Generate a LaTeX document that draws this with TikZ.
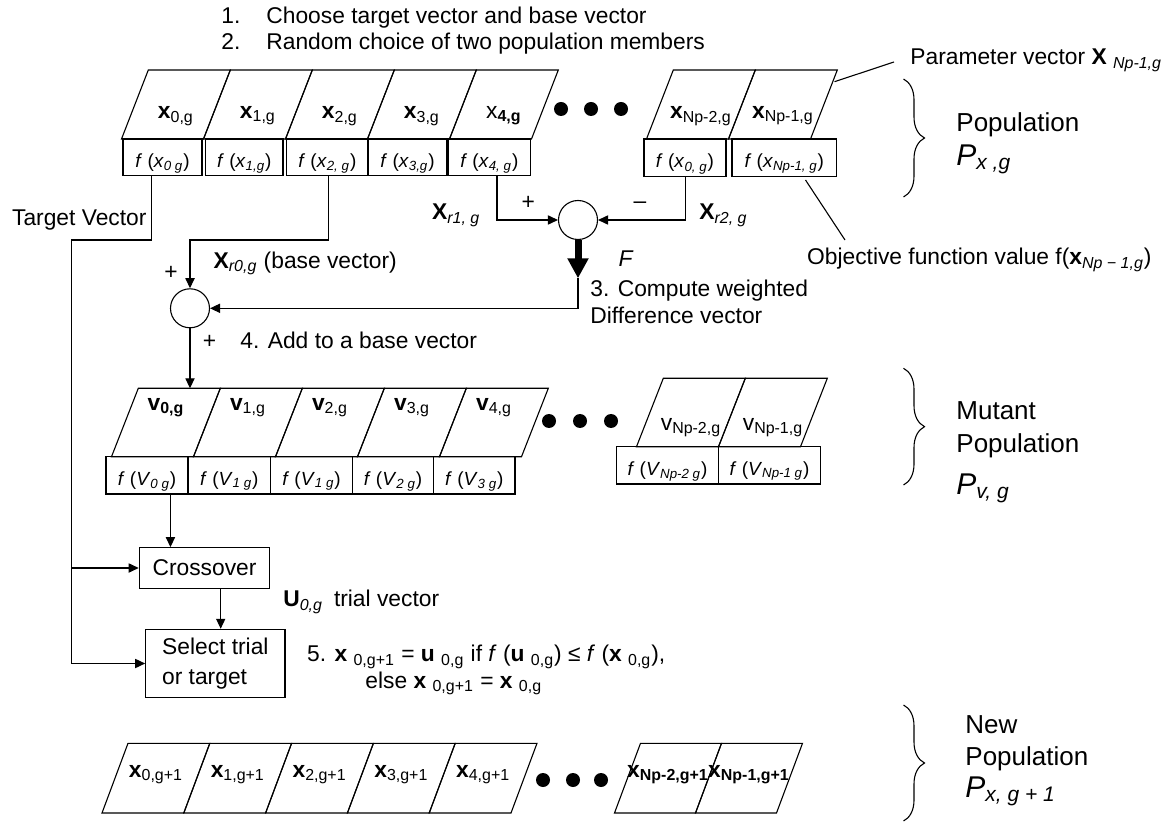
\documentclass[tikz,border=0pt]{standalone}
\usepackage{fontspec}
\setmainfont{Liberation Sans}
\usetikzlibrary{arrows.meta,decorations.pathreplacing,fit}

% subscripts: upright and italic
\newcommand\lsub[1]{\textsubscript{#1}}
\newcommand\isub[1]{\textsubscript{\itshape #1}}
\newcommand\bodyfont{\fontsize{11.4}{13.7}\selectfont}
\newcommand\cellfont{\fontsize{9.5}{11.4}\selectfont}
\newcommand\groupfont{\fontsize{13}{15.6}\selectfont}
\newcommand\bigPfont{\fontsize{15}{18}\selectfont}

% one slanted vector cell: bottom-left x, top y, bottom y, slant, width
\newcommand\pcell[5]{\draw[wire] (#1,#3) -- ({#1+#5},#3) -- ({#1+#5+#4},#2) -- ({#1+#4},#2) -- cycle;}

\tikzset{
  wire/.style={line width=0.55pt},
  arr/.style={wire,-{Triangle[length=5pt,width=4.6pt]}},
  heavy/.style={line width=3.5pt,-{Triangle[length=10pt,width=10pt]}},
  fitbox/.style={draw,wire,inner sep=0pt},
  lbl/.style={inner sep=0pt,font=\bodyfont,anchor=base west},
  celllbl/.style={inner sep=0pt,font=\bodyfont,anchor=base},
  boxlbl/.style={inner sep=0pt,font=\cellfont,anchor=base},
  grouplbl/.style={inner sep=0pt,font=\groupfont,anchor=base west},
  biglbl/.style={inner sep=0pt,font=\bigPfont,anchor=base west},
  dotmark/.style={circle,fill=black,inner sep=0pt,minimum size=7pt},
  sumnode/.style={draw,wire,circle,inner sep=0pt,minimum size=19.5pt},
  procbox/.style={draw,wire,inner sep=0pt,font=\bodyfont},
  groupbrace/.style={wire,decorate,decoration={brace,amplitude=10.5pt}},
}

\begin{document}
\begin{tikzpicture}[x=0.5pt,y=-0.5pt]
\fill[white] (0,0) rectangle (1172,823);
\useasboundingbox (0,0) rectangle (1172,823);

% ---------- steps 1 and 2 ----------
\node[lbl] (s1n) at (221,24) {1.};
\node[lbl] (s1t) at (266,24) {Choose target vector and base vector};
\node[lbl] (s2n) at (221,50) {2.};
\node[lbl] (s2t) at (266,50) {Random choice of two population members};

% ---------- current population ----------
\foreach \b in {121.5,203.5,285.5,367.5,449.5} {\pcell{\b}{70}{139}{26.8}{82}}
\foreach \b in {646.5,728.5} {\pcell{\b}{70}{139}{26.8}{82}}
\node[celllbl] (xc0) at (175.9,118.5) {\textbf{x}\lsub{0,g}};
\node[celllbl] (xc1) at (257.9,118.5) {\textbf{x}\lsub{1,g}};
\node[celllbl] (xc2) at (339.9,118.5) {\textbf{x}\lsub{2,g}};
\node[celllbl] (xc3) at (421.9,118.5) {\textbf{x}\lsub{3,g}};
\node[celllbl] (xc4) at (503.9,118.5) {x\lsub{\bfseries 4,g}};
\node[celllbl] (xca) at (700.9,118.5) {\textbf{x}\lsub{Np-2,g}};
\node[celllbl] (xcb) at (782.9,118.5) {\textbf{x}\lsub{Np-1,g}};
\node[dotmark] (d1) at (561,109) {};
\node[dotmark] (d2) at (591,109) {};
\node[dotmark] (d3) at (621,109) {};

\node[fitbox,fit={(123,139) (202,175.7)}] (fx0) {};
\node[fitbox,fit={(205.5,139) (283,175.7)}] (fx1) {};
\node[fitbox,fit={(286.5,139) (368,175.7)}] (fx2) {};
\node[fitbox,fit={(368,139) (447,175.7)}] (fx3) {};
\node[fitbox,fit={(448,139) (530.5,175.7)}] (fx4) {};
\node[fitbox,fit={(644,139) (726,176.5)}] (fxa) {};
\node[fitbox,fit={(732,139) (836.5,176.5)}] (fxb) {};
\node[boxlbl] at (162.5,167.5) {\textit{f} (\textit{x}\isub{0 g})};
\node[boxlbl] at (244.3,167.5) {\textit{f} (\textit{x}\isub{1,g})};
\node[boxlbl] at (327.3,167.5) {\textit{f} (\textit{x}\isub{2, g})};
\node[boxlbl] at (407.5,167.5) {\textit{f} (\textit{x}\isub{3,g})};
\node[boxlbl] at (489.3,167.5) {\textit{f} (\textit{x}\isub{4, g})};
\node[boxlbl] at (685,168) {\textit{f} (\textit{x}\isub{0, g})};
\node[boxlbl] at (784.3,168) {\textit{f} (\textit{x}\isub{Np-1, g})};

\node[lbl] (pvlabel) at (910,65) {Parameter vector \textbf{X} \isub{Np-1,g}};
\coordinate (pvend) at (834.5,81.7);
\draw[wire] (894,62) -- (pvend);

\draw[groupbrace] (903.5,79) -- (903.5,197);
\node[grouplbl] (popa) at (956,131.7) {Population};
\node[biglbl] (popb) at (956,165.5) {\textit{P}\isub{x ,g}};

% ---------- objective value note ----------
\coordinate (objstart) at (805.5,180);
\coordinate (objend) at (845,240);
\draw[wire] (objstart) -- (objend);
\node[lbl] (objlbl) at (806.7,265) {Objective function value f(\textbf{x}\isub{Np − 1,g})};

% ---------- difference and sum ----------
\node[sumnode] (diff) at (578,220) {};
\node[sumnode] (sum) at (190,308.3) {};

\node[lbl] (tv) at (11.7,226) {Target Vector};
\node[lbl] (r1) at (431.7,220) {\textbf{X}\isub{r1, g}};
\node[lbl] (r2) at (699,220) {\textbf{X}\isub{r2, g}};
\node[celllbl] (plus1) at (528.3,210) {+};
\node[celllbl] (minus1) at (640,209) {–};
\node[lbl] (r0) at (213.3,268.3) {\textbf{X}\isub{r0,g} (base vector)};
\node[celllbl] (plus2) at (171,280) {+};
\node[celllbl] (plus3) at (209.6,348.3) {+};
\node[lbl] (fw) at (618.3,266.7) {\textit{F}};
\node[lbl] (s3a) at (590,296.7) {3. Compute weighted};
\node[lbl] (s3b) at (590,323.3) {Difference vector};
\node[lbl] (s4) at (240,348.3) {4. Add to a base vector};

% ---------- mutant population ----------
\foreach \b in {111.5,193.5,275.5,357.5,439.5} {\pcell{\b}{388.3}{456.7}{26.8}{82}}
\foreach \b in {636.5,718.5} {\pcell{\b}{378.3}{446.7}{26.8}{82}}
\node[celllbl] (vc0) at (166,410) {\textbf{v}\lsub{\bfseries 0,g}};
\node[celllbl] (vc1) at (248,410) {\textbf{v}\lsub{1,g}};
\node[celllbl] (vc2) at (330,410) {\textbf{v}\lsub{2,g}};
\node[celllbl] (vc3) at (412,410) {\textbf{v}\lsub{3,g}};
\node[celllbl] (vc4) at (494,410) {\textbf{v}\lsub{4,g}};
\node[celllbl] (vca) at (691,430) {v\lsub{Np-2,g}};
\node[celllbl] (vcb) at (773,430) {v\lsub{Np-1,g}};
\node[dotmark] (e1) at (549,421) {};
\node[dotmark] (e2) at (580,421) {};
\node[dotmark] (e3) at (611,421) {};

\node[fitbox,fit={(106,456.7) (188,494)}] (fm0) {};
\node[fitbox,fit={(188,456.7) (270.5,494)}] (fm1) {};
\node[fitbox,fit={(270.5,456.7) (352.5,494)}] (fm2) {};
\node[fitbox,fit={(352.5,456.7) (433.5,494)}] (fm3) {};
\node[fitbox,fit={(433.5,456.7) (515,494)}] (fm4) {};
\node[fitbox,fit={(616.5,446.7) (718.5,484)}] (fma) {};
\node[fitbox,fit={(718.5,446.7) (820.5,484)}] (fmb) {};
\node[boxlbl] at (147,485) {\textit{f} (\textit{V}\isub{0 g})};
\node[boxlbl] at (229.3,485) {\textit{f} (\textit{V}\isub{1 g})};
\node[boxlbl] at (311.5,485) {\textit{f} (\textit{V}\isub{1 g})};
\node[boxlbl] at (393,485) {\textit{f} (\textit{V}\isub{2 g})};
\node[boxlbl] at (474.3,485) {\textit{f} (\textit{V}\isub{3 g})};
\node[boxlbl] at (667.5,475) {\textit{f} (\textit{V}\isub{Np-2 g})};
\node[boxlbl] at (769.5,475) {\textit{f} (\textit{V}\isub{Np-1 g})};

\draw[groupbrace] (903.5,368.3) -- (903.5,485);
\node[grouplbl] (mpa) at (956,420) {Mutant};
\node[grouplbl] (mpb) at (956,452) {Population};
\node[biglbl] (mpc) at (956,494) {\textit{P}\isub{v, g}};

% ---------- crossover and selection ----------
\node[procbox,minimum width=65.25pt,minimum height=20.3pt] (cross) at (204.5,568) {Crossover};
\node[procbox,minimum width=69.65pt,minimum height=34.2pt,align=left,
      font=\fontsize{11.4}{14.7}\selectfont] (sel) at (215.35,663.5) {Select trial\\or target};
\node[lbl] (u0) at (283,606.7) {\textbf{U}\isub{0,g}};
\node[lbl] (u0t) at (333.6,606.7) {trial vector};
\node[lbl] (s5a) at (306.7,661.7) {5. \textbf{x} \lsub{0,g+1} = \textbf{u} \lsub{0,g} if \textit{f} (\textbf{u} \lsub{0,g}) ≤ \textit{f} (\textbf{x} \lsub{0,g}),};
\node[lbl] (s5b) at (365,688.3) {else \textbf{x} \lsub{0,g+1} = \textbf{x} \lsub{0,g}};

% ---------- new population ----------
\foreach \b in {102,183.8,265.6,347.4,429.2} {\pcell{\b}{743.3}{813}{26}{81.8}}
\foreach \b in {614.5,695.5} {\pcell{\b}{743.3}{813}{26}{81}}
\node[celllbl] (nc0) at (156,777.3) {\textbf{x}\lsub{0,g+1}};
\node[celllbl] (nc1) at (237.8,777.3) {\textbf{x}\lsub{1,g+1}};
\node[celllbl] (nc2) at (319.6,777.3) {\textbf{x}\lsub{2,g+1}};
\node[celllbl] (nc3) at (401.4,777.3) {\textbf{x}\lsub{3,g+1}};
\node[celllbl] (nc4) at (483.2,777.3) {\textbf{x}\lsub{4,g+1}};
\node[celllbl] (nca) at (668,777.3) {\textbf{x}\lsub{\bfseries Np-2,g+1}};
\node[celllbl] (ncb) at (749,777.3) {\textbf{x}\lsub{\bfseries Np-1,g+1}};
\node[dotmark] (g1) at (543,780) {};
\node[dotmark] (g2) at (573,780) {};
\node[dotmark] (g3) at (601,780) {};

\draw[groupbrace] (903.5,705) -- (903.5,821);
\node[grouplbl] (npa) at (965,733.3) {New};
\node[grouplbl] (npb) at (965,765) {Population};
\node[biglbl] (npc) at (965,797) {\textit{P}\isub{x, g + 1}};

% ---------- connectors ----------
\coordinate (trunk) at (71.5,240);
\draw[arr] ([xshift=14.5pt]fx0.south west) |- (trunk) |- (sel.west);
\draw[arr] (trunk |- cross.west) -- (cross.west);

\coordinate (basejoin) at (190,240);
\draw[arr] ([xshift=21.25pt]fx2.south west) |- (basejoin) -- (sum.north);
\draw[arr] ([xshift=24.75pt]fx4.south west) |- (diff.west);
\draw[arr] ([xshift=21pt]fxa.south west) |- (diff.east);

\coordinate (ftip) at (578,278.3);
\draw[heavy] (diff.south) -- (ftip);
\draw[arr] (ftip) |- (sum.east);

\coordinate (mtop) at (190,388.3);
\draw[arr] (sum.south) -- (mtop);

\coordinate (mout) at ([xshift=32.5pt]fm0.south west);
\draw[arr] (mout) -- (mout |- cross.north);
\coordinate (cout) at ([xshift=8.1pt]cross.south);
\draw[arr] (cout) -- (cout |- sel.north);
\end{tikzpicture}
\end{document}
